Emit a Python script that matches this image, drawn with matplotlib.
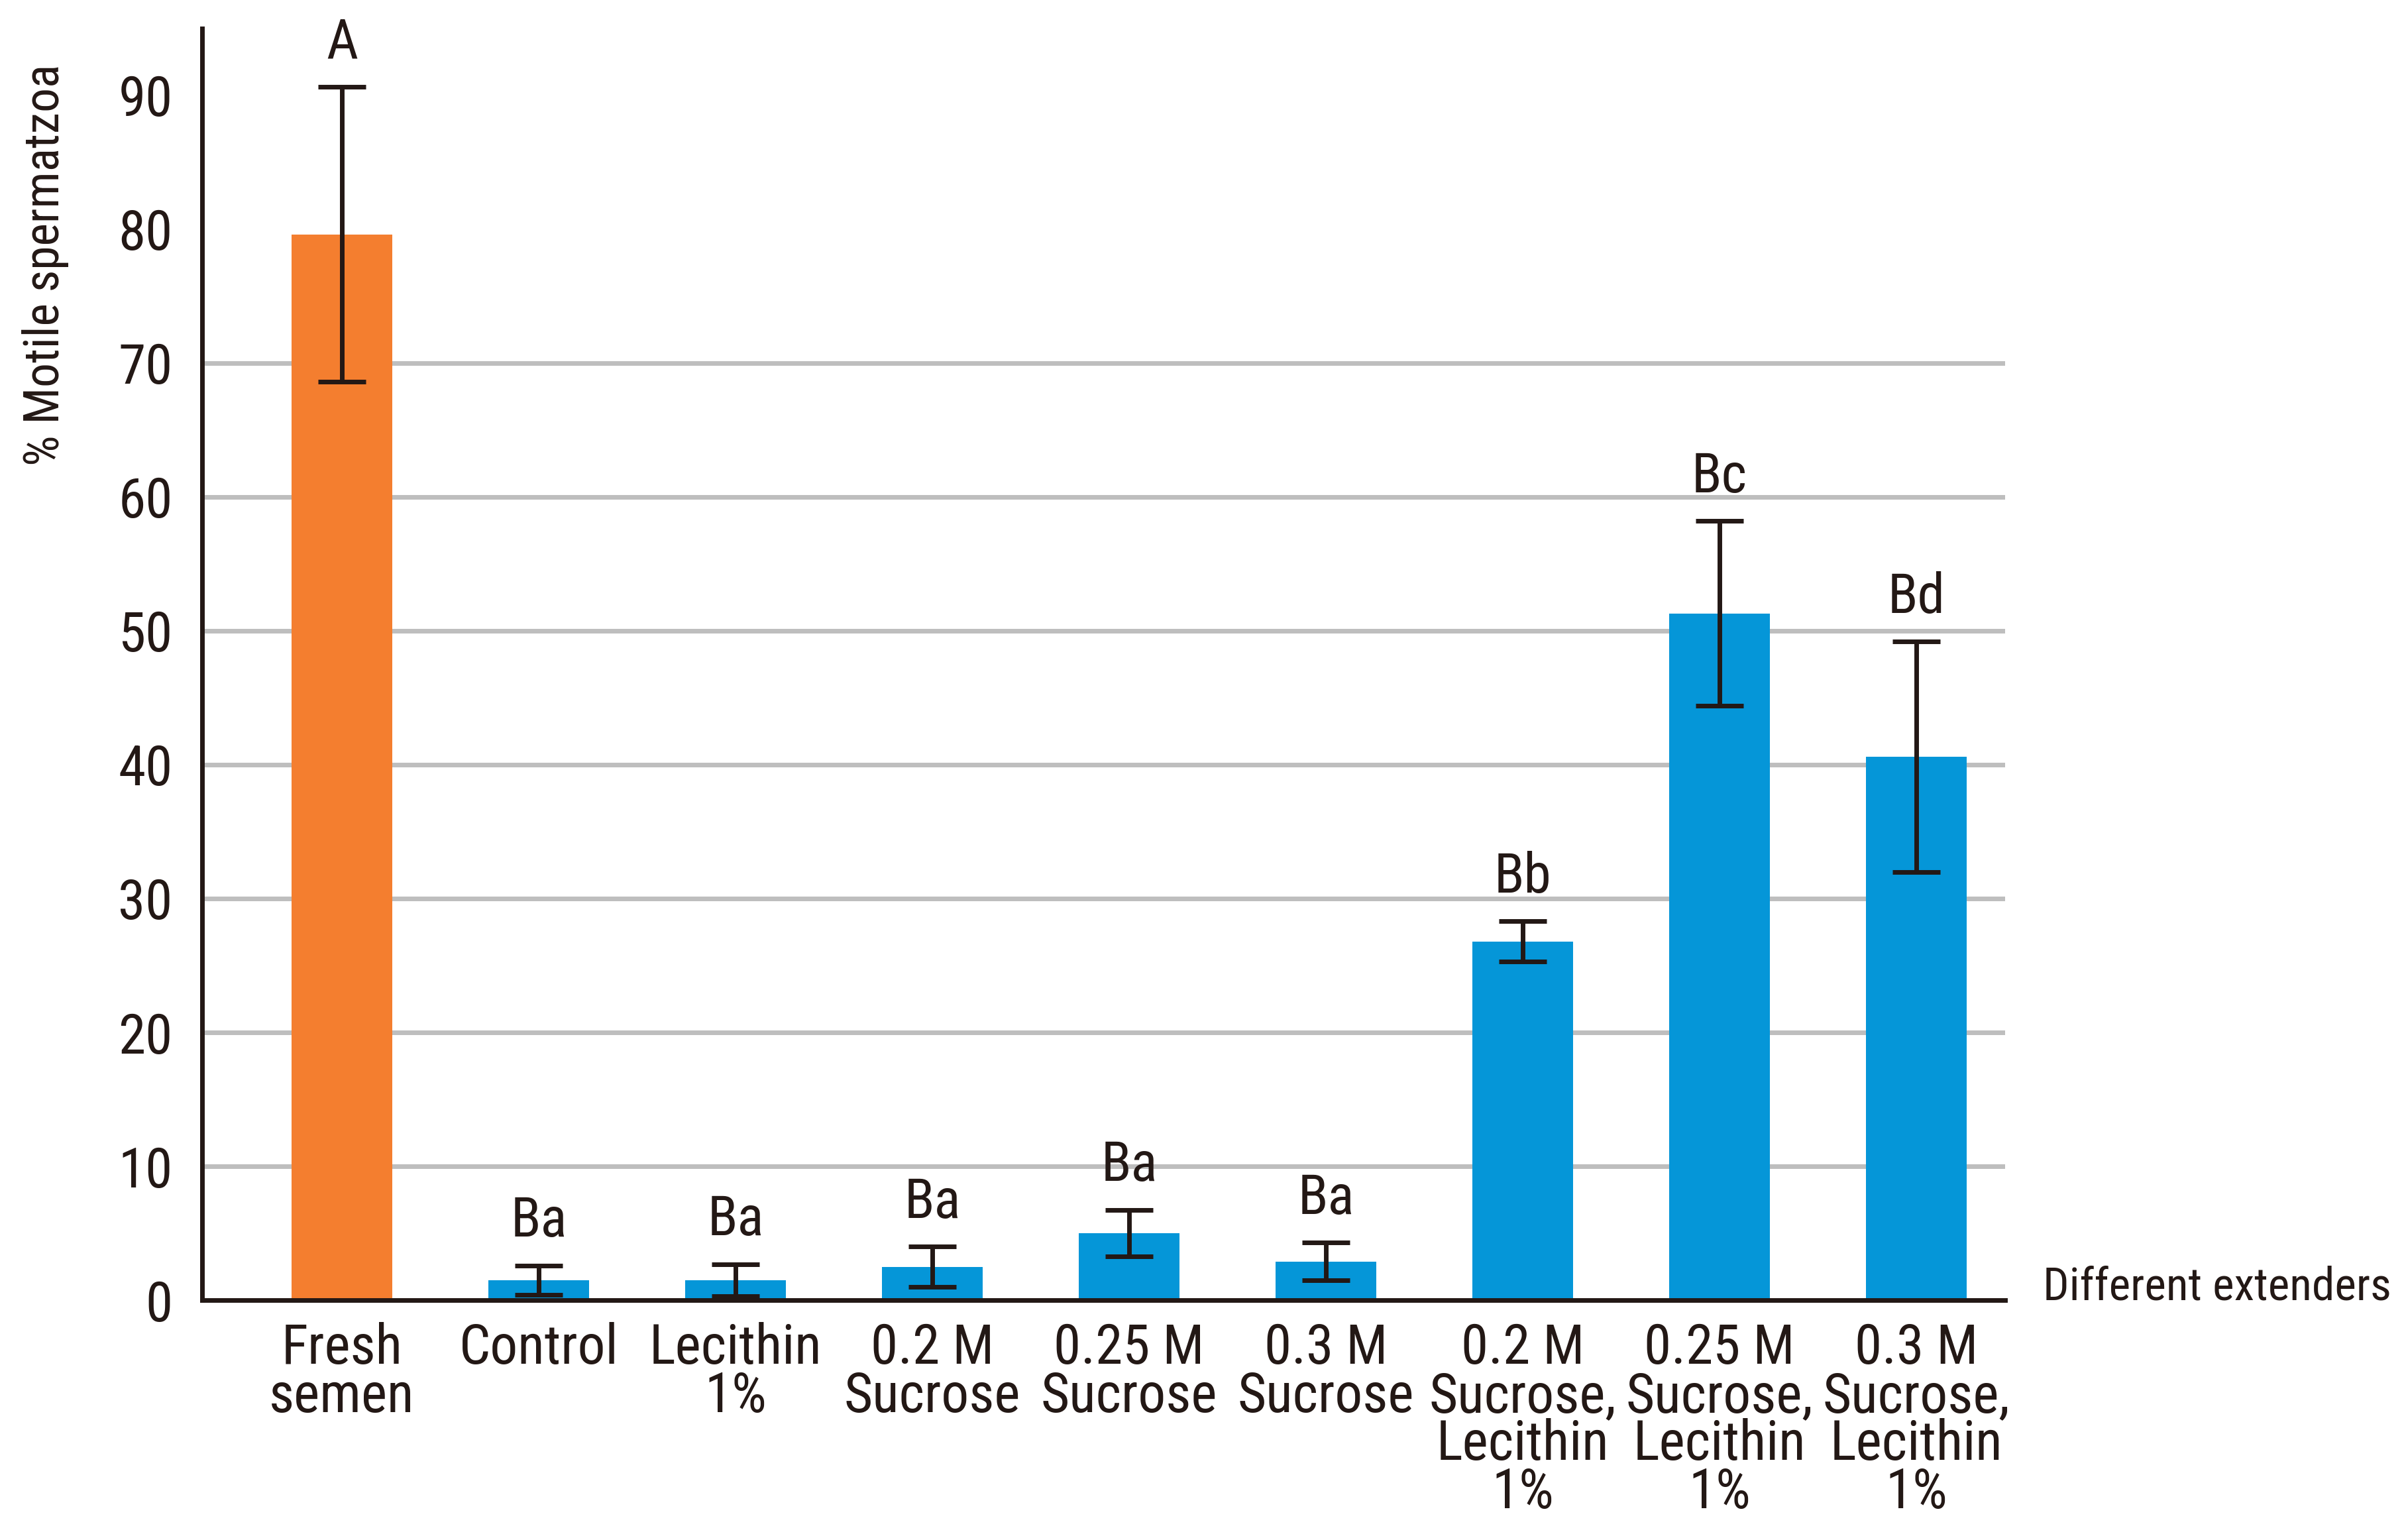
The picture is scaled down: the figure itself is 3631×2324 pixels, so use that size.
import matplotlib.pyplot as plt
from matplotlib import font_manager
import numpy as np

# data
categories = ["Fresh\nsemen", "Control", "Lecithin\n1%", "0.2 M\nSucrose", "0.25 M\nSucrose",
              "0.3 M\nSucrose", "0.2 M\nSucrose,\nLecithin\n1%", "0.25 M\nSucrose,\nLecithin\n1%",
              "0.3 M\nSucrose,\nLecithin\n1%"]
motile = [79.6, 1.5, 1.5, 2.5, 5.0, 2.9, 26.8, 51.3, 40.6]
err = [11.0, 1.1, 1.2, 1.5, 1.75, 1.4, 1.5, 6.9, 8.6]
letters = ["A", "Ba", "Ba", "Ba", "Ba", "Ba", "Bb", "Bc", "Bd"]
yticks = [0, 10, 20, 30, 40, 50, 60, 70, 80, 90]
grid_levels = [10, 20, 30, 40, 50, 60, 70]

orange = "#F47E2F"
blue = "#0596D8"
dark = "#231815"

# pick a narrow font if there is one
names = set(f.name for f in font_manager.fontManager.ttflist)
stretch = "normal"
fam = "DejaVu Sans"
for cand in ["Liberation Sans Narrow", "Roboto Condensed", "Open Sans Condensed", "Noto Sans Condensed"]:
    if cand in names:
        fam = cand
        break
else:
    for f in font_manager.fontManager.ttflist:
        if f.name in ("Noto Sans", "DejaVu Sans", "Open Sans", "Roboto") and f.stretch in ("condensed", "semi-condensed", "extra-condensed") and f.weight in (400, "normal", "regular"):
            fam = f.name
            stretch = f.stretch
            break
plt.rcParams["font.family"] = [fam, "DejaVu Sans"]
plt.rcParams["font.stretch"] = stretch
fs = 60

fig = plt.figure(figsize=(36.31, 23.24), dpi=100)
ax = fig.add_axes([0.084, 0.1557, 0.7493, 0.826])

x = np.arange(len(categories))
colors = [orange] + [blue] * (len(categories) - 1)

ax.hlines(grid_levels, 0, 1, transform=ax.get_yaxis_transform(), color="#BEBEBE", lw=5, zorder=0)
ax.bar(x, motile, width=0.51, color=colors, zorder=2)
ax.errorbar(x, motile, yerr=err, fmt="none", ecolor=dark, elinewidth=5, capsize=26, capthick=5, zorder=3)

for xi, m, e, lab in zip(x, motile, err, letters):
    ax.text(xi, m + e + 1.3, lab, ha="center", va="bottom", fontsize=fs, color=dark)

ax.set_xlim(-0.71, 8.45)
ax.set_ylim(0, 95)
ax.set_yticks(yticks)
ax.set_yticklabels([str(v) for v in yticks], fontsize=fs, color=dark)
ax.set_xticks(x)
ax.set_xticklabels(categories, fontsize=fs, color=dark, linespacing=0.88, va="top")
ax.tick_params(axis="both", length=0)
ax.tick_params(axis="x", pad=24)
ax.tick_params(axis="y", pad=32)

for s in ["top", "right"]:
    ax.spines[s].set_visible(False)
ax.spines["left"].set_color(dark)
ax.spines["bottom"].set_color(dark)
ax.spines["left"].set_linewidth(5)
ax.spines["bottom"].set_linewidth(5)

fig.text(0.019, 0.828, "% Motile spermatzoa", rotation=90, ha="center", va="center", fontsize=53, color=dark)
fig.text(0.849, 0.164, "Different extenders", ha="left", va="center", fontsize=50, color=dark)

fig.savefig("out.png", dpi=100, facecolor="white")
